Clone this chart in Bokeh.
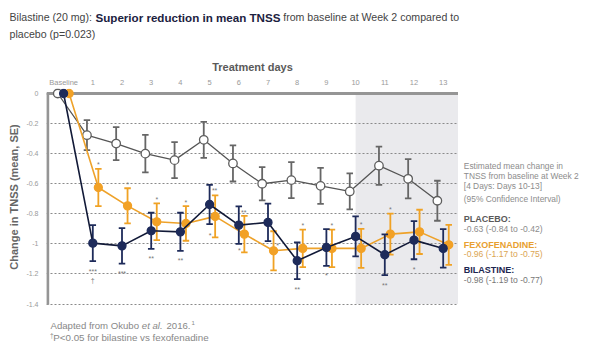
from bokeh.plotting import figure
from bokeh.layouts import column, row
from bokeh.models import Range1d, FixedTicker, Span, BoxAnnotation, ColumnDataSource
from bokeh.embed import file_html
from bokeh.resources import INLINE
from bokeh.core.properties import value

# ---------------- data ----------------
days = list(range(14))
day_labels = ["Baseline"] + [str(d) for d in range(1, 14)]

placebo_mean = [0, -0.277, -0.333, -0.40, -0.443, -0.308, -0.465, -0.60, -0.576, -0.614, -0.651, -0.48, -0.567, -0.713]
placebo_se = [0, 0.10, 0.11, 0.125, 0.12, 0.12, 0.12, 0.11, 0.12, 0.12, 0.12, 0.127, 0.13, 0.133]

bilastine_mean = [0, -0.995, -1.013, -0.913, -0.92, -0.738, -0.875, -0.857, -1.112, -1.024, -0.95, -1.072, -0.975, -1.03]
bilastine_se = [0, 0.12, 0.118, 0.12, 0.127, 0.13, 0.125, 0.125, 0.122, 0.122, 0.133, 0.135, 0.127, 0.128]

fexo_mean = [0, -0.625, -0.747, -0.853, -0.864, -0.817, -0.935, -1.046, -1.03, -1.03, -1.03, -0.935, -0.92, -1.006]
fexo_se = [0, 0.124, 0.117, 0.122, 0.115, 0.14, 0.122, 0.13, 0.125, 0.125, 0.13, 0.136, 0.147, 0.133]

y_ticks = [0, -0.2, -0.4, -0.6, -0.8, -1, -1.2, -1.4]
y_tick_labels = ["0", "-0.2", "-0.4", "-0.6", "-0.8", "-1", "-1.2", "-1.4"]

shade_start_day = 10

# significance marks
sig_day = [1, 2, 3, 4, 8, 9, 10, 11, 1, 1, 2, 3, 4, 8, 9, 11, 12, 5, 6, 5, 6, 7]
sig_series = ["F"] * 8 + ["B"] * 9 + ["B", "B"] + ["F", "F"] + ["F"]
sig_text = ["*"] * 8 + ["***", "\u2020", "***", "**", "**", "**", "*", "**", "*"] + ["**", "**"] + ["*", "*"] + ["*"]
sig_side = ["above"] * 8 + ["below", "dagger"] + ["below"] * 7 + ["right", "right"] + ["lowleft", "lowleft"] + ["upright"]

# ---------------- layout ----------------
FONT = "Liberation Sans"
TOTAL_W = 600
TOP_H = 42          # title strip
FOOT_H = 40         # footnote strip
ML, MT, MB = 46, 46, 5
FW, FH = 412, 217
MAIN_W = ML + FW
MAIN_H = MT + FH + MB
RIGHT_W = TOTAL_W - MAIN_W

PX_DAY = 29.2
PX_UNIT = 150.4
x_start = -0.5856
x_end = x_start + FW / PX_DAY
y_end = 5 / PX_UNIT
y_start = y_end - FH / PX_UNIT

p = figure(width=MAIN_W, height=MAIN_H, x_range=Range1d(x_start, x_end), y_range=Range1d(y_start, y_end),
           x_axis_location="above", toolbar_location=None, output_backend="svg",
           min_border_left=ML, min_border_right=0, min_border_top=MT, min_border_bottom=MB,
           background_fill_color="white", border_fill_color="white", outline_line_color=None)

xa = p.xaxis[0]
xa.ticker = FixedTicker(ticks=days)
xa.major_label_overrides = dict(zip(days, day_labels))
xa.axis_line_color = None
xa.major_tick_line_color = None
xa.minor_tick_line_color = None
xa.major_tick_out = 0
xa.major_tick_in = 0
xa.minor_tick_out = 0
xa.major_label_text_font = FONT
xa.major_label_text_font_size = "7.5px"
xa.major_label_text_color = "#9a9a9a"
xa.major_label_standoff = 2
xa.axis_label = "Treatment days"
xa.axis_label_text_font = FONT
xa.axis_label_text_font_size = "11px"
xa.axis_label_text_font_style = "bold"
xa.axis_label_text_color = "#5a5a5a"
xa.axis_label_standoff = 2

ya = p.yaxis[0]
ya.ticker = FixedTicker(ticks=y_ticks)
ya.major_label_overrides = dict(zip(y_ticks, y_tick_labels))
ya.axis_line_color = None
ya.major_tick_line_color = None
ya.minor_tick_line_color = None
ya.major_tick_out = 0
ya.major_tick_in = 0
ya.minor_tick_out = 0
ya.major_label_text_font = FONT
ya.major_label_text_font_size = "7px"
ya.major_label_text_color = "#9a9a9a"
ya.major_label_standoff = 8
ya.axis_label = "Change in TNSS (mean, SE)"
ya.axis_label_text_font = FONT
ya.axis_label_text_font_size = "11px"
ya.axis_label_text_font_style = "bold"
ya.axis_label_text_color = "#666666"
ya.axis_label_standoff = 3

p.xgrid.grid_line_color = None
p.ygrid.ticker = FixedTicker(ticks=y_ticks)
p.ygrid.grid_line_color = "#8a8a8a"
p.ygrid.grid_line_dash = "2 2"
p.ygrid.grid_line_width = 1

p.add_layout(BoxAnnotation(left=shade_start_day, bottom=y_ticks[-1], top=0, fill_color="#eaeaed",
                           fill_alpha=1, line_color=None, level="image"))
p.add_layout(Span(location=0, dimension="width", line_color="#959595", line_width=3, level="underlay"))
lx = x_start + 1.2 / PX_DAY
p.segment(x0=[lx], y0=[0], x1=[lx], y1=[y_ticks[-1] - 0.005], line_color="#959595", line_width=3)

offsets = {"P": -0.2, "B": 0.0, "F": 0.19}
series = {
    "P": (placebo_mean, placebo_se),
    "B": (bilastine_mean, bilastine_se),
    "F": (fexo_mean, fexo_se),
}
styles = {
    "P": dict(err="#666666", line="#555555", lw=1.3, fill="white", outline="#5e5e5e", size=8.5),
    "F": dict(err="#f0a224", line="#eea22a", lw=1.6, fill="#f2a126", outline="#f2a126", size=8),
    "B": dict(err="#1e2b5a", line="#121a38", lw=1.6, fill="#1e2b5a", outline="#1e2b5a", size=8),
}

for key in ["P", "F", "B"]:
    mean, se = series[key]
    st = styles[key]
    xs = [d + offsets[key] for d in days]
    lo = [m - s for m, s in zip(mean, se)]
    hi = [m + s for m, s in zip(mean, se)]
    p.segment(x0=xs, y0=lo, x1=xs, y1=hi, line_color=st["err"], line_width=1.8)
    p.scatter(xs, lo, marker="dash", size=6.5, line_color=st["err"], line_width=1.8)
    p.scatter(xs, hi, marker="dash", size=6.5, line_color=st["err"], line_width=1.8)
    p.line(xs, mean, line_color=st["line"], line_width=st["lw"])
    p.scatter(xs, mean, size=st["size"], fill_color=st["fill"], line_color=st["outline"], line_width=1.3)

side_off = {"above": (0, -4, +1), "below": (0, 10, -1), "dagger": (0, 19, -1),
            "right": (5, 6, +1), "lowleft": (-5, -2, -1), "upright": (4, 14, +1)}
sx, sy, sxo, syo = [], [], [], []
for d, s, side in zip(sig_day, sig_series, sig_side):
    mean, se = series[s]
    xo, yo, sign = side_off[side]
    sx.append(d + offsets[s])
    sy.append(mean[d] + sign * se[d])
    sxo.append(xo)
    syo.append(yo)
src = ColumnDataSource(dict(x=sx, y=sy, t=sig_text, xo=sxo, yo=syo))
p.text(x="x", y="y", text="t", x_offset="xo", y_offset="yo", source=src, text_font=value(FONT),
       text_font_size="7px", text_color="#777777", text_align="center", text_baseline="alphabetic")


# ---------------- text strips ----------------
def text_fig(w, h):
    f = figure(width=w, height=h, x_range=Range1d(0, w), y_range=Range1d(h, 0),
               x_axis_type=None, y_axis_type=None, toolbar_location=None, output_backend="svg",
               min_border=0, outline_line_color=None, background_fill_color="white",
               border_fill_color="white")
    f.grid.visible = False
    return f


def put(f, text, x, y, size, color, style="normal"):
    f.text(x=[x], y=[y], text=[text], text_font=value(FONT), text_font_size=f"{size}px",
           text_color=color, text_font_style=style, text_align="left", text_baseline="middle")


top = text_fig(TOTAL_W, TOP_H)
put(top, "Bilastine (20 mg):", 9, 16.7, 10.6, "#444444")
put(top, "Superior reduction in mean TNSS", 95, 16.7, 11.6, "#1b2140", "bold")
put(top, "from baseline at Week 2 compared to", 282.7, 16.7, 10.6, "#444444")
put(top, "placebo (p=0.023)", 9, 33.3, 10.6, "#444444")

right = text_fig(RIGHT_W, MAIN_H)
RX = 463.3 - MAIN_W
RY = TOP_H
put(right, "Estimated mean change in", RX, 138.3 - RY, 8.4, "#8c8c8c")
put(right, "TNSS from baseline at Week 2", RX, 150 - RY, 8.4, "#8c8c8c")
put(right, "[4 Days: Days 10-13]", RX, 162.3 - RY, 8.4, "#8c8c8c")
put(right, "(95% Confidence Interval)", RX, 178.3 - RY, 8.4, "#8c8c8c")
put(right, "PLACEBO:", RX, 202.7 - RY, 9, "#5a5a5a", "bold")
put(right, "-0.63 (-0.84 to -0.42)", RX, 215.7 - RY, 8.6, "#8c8c8c")
put(right, "FEXOFENADINE:", RX, 235 - RY, 9, "#e8a030", "bold")
put(right, "-0.96 (-1.17 to -0.75)", RX, 247 - RY, 8.6, "#dba552")
put(right, "BILASTINE:", RX, 266.7 - RY, 9, "#1c2650", "bold")
put(right, "-0.98 (-1.19 to -0.77)", RX, 278.5 - RY, 8.6, "#777777")

foot = text_fig(TOTAL_W, FOOT_H)
FY = TOP_H + MAIN_H
put(foot, "Adapted from Okubo", 50, 325.3 - FY, 9.6, "#888888")
put(foot, "et al.", 141.3, 325.3 - FY, 9.6, "#888888", "italic")
put(foot, "2016.", 166, 325.3 - FY, 9.6, "#888888")
put(foot, "1", 191, 322 - FY, 6, "#888888")
put(foot, "\u2020", 49.5, 335 - FY, 6.5, "#888888")
put(foot, "P<0.05 for bilastine vs fexofenadine", 52.7, 337 - FY, 9.8, "#888888")

layout = column(top, row(p, right), foot)
open("out.html", "w").write(file_html(layout, INLINE))
